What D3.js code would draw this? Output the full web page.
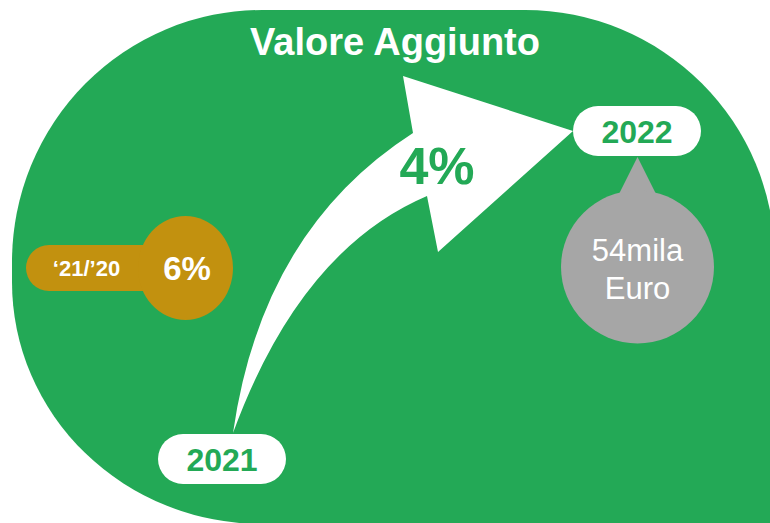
<!DOCTYPE html>
<html>
<head>
<meta charset="utf-8">
<style>
body { margin: 0; background: #fff; }
svg { display: block; }
text { font-family: "Liberation Sans", Arial, sans-serif; }
</style>
</head>
<body>
<script src="https://cdn.jsdelivr.net/npm/d3@7"></script>
<script>
var title = "Valore Aggiunto";
var years = [2021, 2022];
var yearGrowth = ["4%"];           // 2022 vs 2021
var prevLabel = ["\u201821/\u201920"];
var prevGrowth = ["6%"];
var valueLines = ["54mila", "Euro"];

var width = 770, height = 523;
var green = "#23a956", gold = "#c2910f", grey = "#a6a6a6";

var svg = d3.select("body").append("svg")
    .attr("width", width)
    .attr("height", height);

// big green background
svg.append("path")
    .attr("d", "M12,262 A250,252 0 0 1 262,10 L525,10 A250,250 0 0 1 775,260 L775,524 L262,524 A250,242 0 0 1 12,282 Z")
    .attr("fill", green);

svg.append("text")
    .attr("x", 395).attr("y", 55)
    .attr("text-anchor", "middle")
    .attr("font-size", 38).attr("font-weight", "bold")
    .attr("fill", "#fff")
    .text(title);

// year positions
var x = d3.scaleLinear().domain(years).range([222, 637]);
var y = d3.scaleLinear().domain(years).range([459, 131]);

// curved arrow from 2021 to 2022
var p = d3.path();
p.moveTo(x(2021) + 11, y(2021) - 26);
p.quadraticCurveTo(262, 230, 413, 133);
p.lineTo(403, 76);
p.lineTo(x(2022) - 64, y(2022));
p.lineTo(438, 252);
p.lineTo(427, 196);
p.quadraticCurveTo(300, 250, x(2021) + 11, y(2021) - 26);
p.closePath();
svg.append("path").attr("d", p.toString()).attr("fill", "#fff");

svg.append("text")
    .attr("x", 437).attr("y", 184)
    .attr("text-anchor", "middle")
    .attr("font-size", 52).attr("font-weight", "bold")
    .attr("fill", green)
    .text(yearGrowth[0]);

// grey bubble with value
var gx = x(2022) + 0.5, gy = 267;
svg.append("path")
    .attr("d", "M" + gx + "," + (y(2022) + 26) + " L" + (gx + 18) + "," + (gy - 74) + " L" + (gx - 18) + "," + (gy - 74) + " Z")
    .attr("fill", grey);
svg.append("circle")
    .attr("cx", gx).attr("cy", gy).attr("r", 76.5)
    .attr("fill", grey);
svg.selectAll(".val").data(valueLines).enter().append("text")
    .attr("class", "val")
    .attr("x", gx).attr("y", function(d, i) { return 261 + i * 38; })
    .attr("text-anchor", "middle")
    .attr("font-size", 31)
    .attr("fill", "#fff")
    .text(function(d) { return d; });

// year pills
var pills = svg.selectAll(".pill").data(years).enter().append("g")
    .attr("class", "pill")
    .attr("transform", function(d) { return "translate(" + x(d) + "," + y(d) + ")"; });
pills.append("rect")
    .attr("x", -64).attr("y", -25)
    .attr("width", 128).attr("height", 50)
    .attr("rx", 25).attr("ry", 25)
    .attr("fill", "#fff");
pills.append("text")
    .attr("y", 12)
    .attr("text-anchor", "middle")
    .attr("font-size", 32).attr("font-weight", "bold")
    .attr("fill", green)
    .text(function(d) { return d; });

// gold key shape with previous year growth
svg.append("rect")
    .attr("x", 26).attr("y", 245)
    .attr("width", 150).attr("height", 46)
    .attr("rx", 23).attr("ry", 23)
    .attr("fill", gold);
svg.append("ellipse")
    .attr("cx", 185.5).attr("cy", 268)
    .attr("rx", 47.5).attr("ry", 52)
    .attr("fill", gold);
svg.append("text")
    .attr("x", 86.5).attr("y", 276)
    .attr("text-anchor", "middle")
    .attr("font-size", 22).attr("font-weight", "bold")
    .attr("fill", "#fff")
    .text(prevLabel[0]);
svg.append("text")
    .attr("x", 187).attr("y", 280)
    .attr("text-anchor", "middle")
    .attr("font-size", 33).attr("font-weight", "bold")
    .attr("fill", "#fff")
    .text(prevGrowth[0]);
</script>
</body>
</html>
